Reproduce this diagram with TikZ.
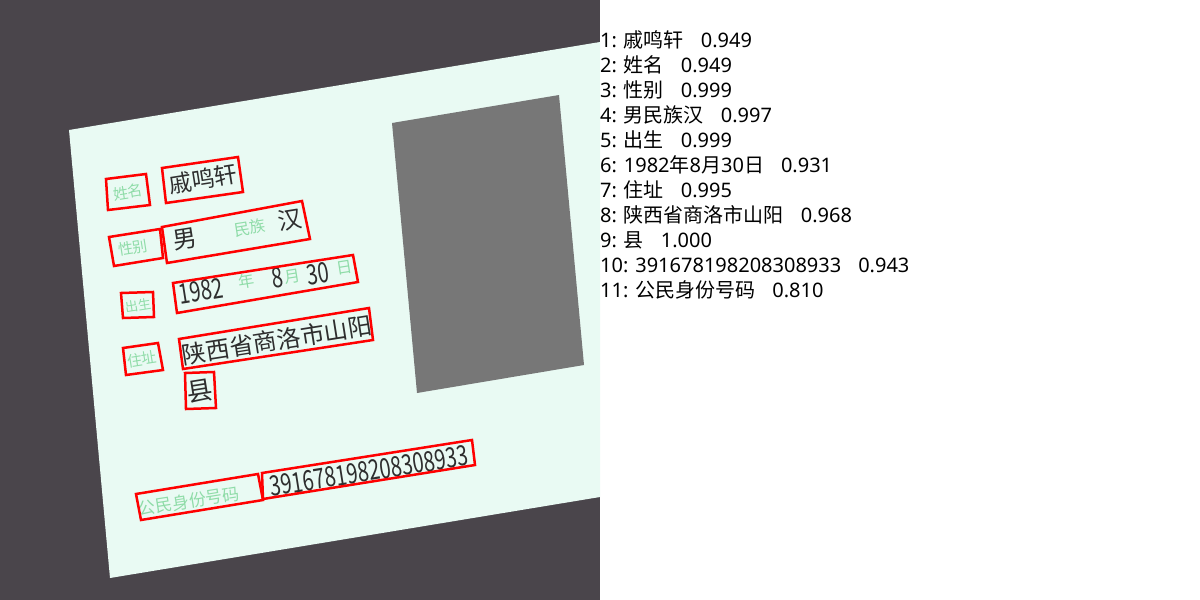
\documentclass[tikz,border=0pt]{standalone}
\usepackage{fontspec}
\setmainfont{Noto Sans CJK SC}
\newfontfamily\resnum{Noto Sans}
\definecolor{scenebg}{HTML}{4A454B}
\definecolor{cardmint}{HTML}{E9FAF3}
\definecolor{photogray}{HTML}{777777}
\definecolor{idgreen}{HTML}{8FDCA8}
\definecolor{idink}{HTML}{2E2E2E}
\newcommand{\gapscore}{\hspace{0.85em}}

\begin{document}
\begin{tikzpicture}[x=1pt,y=-1pt,
    idlabel/.style={text=idgreen, inner sep=0pt, rotate=9, font=\fontsize{15}{15}\selectfont},
    idvalue/.style={text=idink, inner sep=0pt, rotate=9, font=\fontsize{24}{24}\selectfont},
    iddigits/.style={idvalue, font=\fontsize{28}{28}\selectfont, xscale=0.72},
    ocrbox/.style={draw=red, line width=2.5pt, line join=miter},
    resline/.style={anchor=west, inner sep=0pt, font=\fontsize{20}{20}\selectfont}]
    \useasboundingbox (0,0) rectangle (1200,600);
    \fill[white] (0,0) rectangle (1200,600);

    % the photographed card
    \fill[scenebg] (0,0) rectangle (600,600);
    \fill[cardmint] (69,130) -- (600,42) -- (600,497) -- (110,578) -- cycle;
    \fill[photogray] (392,123) -- (559,95) -- (584,365) -- (417,393) -- cycle;

    % printed field names
    \node[idlabel] (xingming) at (128,192) {姓名};
    \node[idlabel] (xingbie) at (133,248) {性别};
    \node[idlabel, font=\fontsize{16}{16}\selectfont] (minzu) at (250,228) {民族};
    \node[idlabel, font=\fontsize{16}{16}\selectfont] (nian) at (246,281) {年};
    \node[idlabel, font=\fontsize{16}{16}\selectfont] (yue) at (293,277) {月};
    \node[idlabel, font=\fontsize{16}{16}\selectfont] (ri) at (345,268) {日};
    \node[idlabel, font=\fontsize{13}{13}\selectfont] (chusheng) at (138,306) {出生};
    \node[idlabel] (zhuzhi) at (142,359) {住址};
    \node[idlabel, font=\fontsize{17}{17}\selectfont] (haoma) at (189,501) {公民身份号码};

    % printed values
    \node[idvalue, font=\fontsize{23}{23}\selectfont] (name) at (203,179) {戚鸣轩};
    \node[idvalue] (nan) at (185,239) {男};
    \node[idvalue] (han) at (290,220) {汉};
    \node[iddigits] (year) at (201,291) {1982};
    \node[iddigits] (month) at (277,278) {8};
    \node[iddigits] (day) at (318,274) {30};
    \node[idvalue] (addr) at (277,340) {陕西省商洛市山阳};
    \node[idvalue, font=\fontsize{26}{26}\selectfont] (xian) at (200,391) {县};
    \node[iddigits] (idnum) at (369,471) {391678198208308933};

    % detected boxes
    \draw[ocrbox] (162,168) -- (238,157) -- (243,192) -- (166,203) -- cycle;
    \draw[ocrbox] (106,179) -- (146,174) -- (150,205) -- (108,210) -- cycle;
    \draw[ocrbox] (109,237) -- (160,229) -- (163,258) -- (114,266) -- cycle;
    \draw[ocrbox] (162,227) -- (302,201) -- (310,239) -- (167,263) -- cycle;
    \draw[ocrbox] (121,293) -- (153,292) -- (154,317) -- (123,318) -- cycle;
    \draw[ocrbox] (173,283) -- (353,255) -- (358,282) -- (177,313) -- cycle;
    \draw[ocrbox] (123,348) -- (158,343) -- (163,370) -- (126,375) -- cycle;
    \draw[ocrbox] (179,339) -- (369,308) -- (373,340) -- (183,369) -- cycle;
    \draw[ocrbox] (185,373) -- (214,372) -- (216,408) -- (186,409) -- cycle;
    \draw[ocrbox] (262,473) -- (472,440) -- (475,465) -- (263,499) -- cycle;
    \draw[ocrbox] (136,494) -- (258,474) -- (263,500) -- (141,520) -- cycle;

    % recognition results
    \node[resline] (r1) at (600,40) {{\resnum 1: }戚鸣轩\gapscore{\resnum 0.949}};
    \node[resline] (r2) at (600,65) {{\resnum 2: }姓名\gapscore{\resnum 0.949}};
    \node[resline] (r3) at (600,90) {{\resnum 3: }性别\gapscore{\resnum 0.999}};
    \node[resline] (r4) at (600,115) {{\resnum 4: }男民族汉\gapscore{\resnum 0.997}};
    \node[resline] (r5) at (600,140) {{\resnum 5: }出生\gapscore{\resnum 0.999}};
    \node[resline] (r6) at (600,165) {{\resnum 6: 1982}年{\resnum 8}月{\resnum 30}日\gapscore{\resnum 0.931}};
    \node[resline] (r7) at (600,190) {{\resnum 7: }住址\gapscore{\resnum 0.995}};
    \node[resline] (r8) at (600,215) {{\resnum 8: }陕西省商洛市山阳\gapscore{\resnum 0.968}};
    \node[resline] (r9) at (600,240) {{\resnum 9: }县\gapscore{\resnum 1.000}};
    \node[resline] (r10) at (600,265) {{\resnum 10: 391678198208308933}\gapscore{\resnum 0.943}};
    \node[resline] (r11) at (600,290) {{\resnum 11: }公民身份号码\gapscore{\resnum 0.810}};
\end{tikzpicture}
\end{document}
